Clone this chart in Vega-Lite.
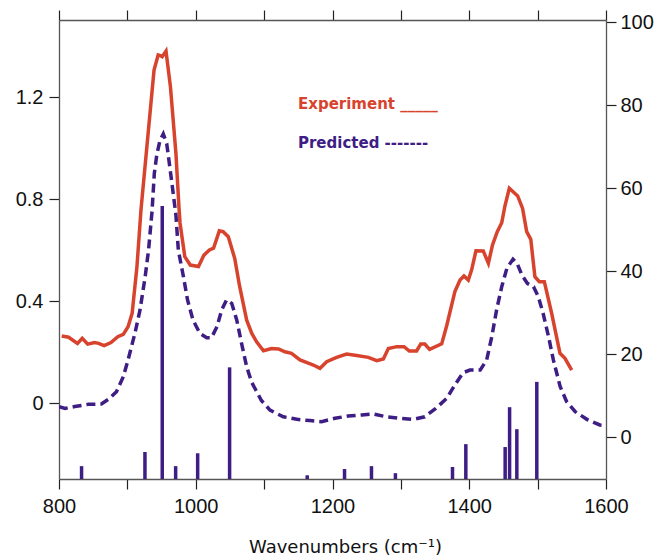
{
  "$schema": "https://vega.github.io/schema/vega-lite/v6.json",
  "width": 547,
  "height": 459,
  "autosize": {"type": "none"},
  "padding": {"left": 59, "top": 20, "right": 51, "bottom": 77},
  "config": {
    "view": {"stroke": null},
    "font": "Liberation Sans",
    "axis": {
      "labelFont": "Liberation Sans",
      "labelFontSize": 20,
      "labelColor": "#111111",
      "labelFlush": false,
      "labelOverlap": false,
      "domainColor": "#555555",
      "domainWidth": 1.3,
      "tickColor": "#222222",
      "tickWidth": 1.2,
      "tickSize": 10,
      "grid": false,
      "labelPadding": 6,
      "titleFont": "DejaVu Sans",
      "titleFontWeight": "normal",
      "titleFontSize": 18,
      "titleColor": "#111111"
    }
  },
  "datasets": {
    "exp": [
      {"wn": 804, "abs": 0.263}, {"wn": 814, "abs": 0.258}, {"wn": 827, "abs": 0.234}, {"wn": 834, "abs": 0.254},
      {"wn": 842, "abs": 0.231}, {"wn": 852, "abs": 0.237}, {"wn": 858, "abs": 0.234}, {"wn": 866, "abs": 0.225},
      {"wn": 876, "abs": 0.237}, {"wn": 886, "abs": 0.26}, {"wn": 894, "abs": 0.269}, {"wn": 901, "abs": 0.299},
      {"wn": 907, "abs": 0.352}, {"wn": 914, "abs": 0.535}, {"wn": 920, "abs": 0.76}, {"wn": 939, "abs": 1.306},
      {"wn": 945, "abs": 1.365}, {"wn": 949, "abs": 1.361}, {"wn": 951, "abs": 1.358}, {"wn": 956.5, "abs": 1.38},
      {"wn": 963, "abs": 1.24}, {"wn": 971, "abs": 0.979}, {"wn": 975.5, "abs": 0.765}, {"wn": 977, "abs": 0.706},
      {"wn": 984, "abs": 0.574}, {"wn": 992, "abs": 0.541}, {"wn": 1004, "abs": 0.535}, {"wn": 1012, "abs": 0.58},
      {"wn": 1020, "abs": 0.6}, {"wn": 1026, "abs": 0.607}, {"wn": 1034.5, "abs": 0.675}, {"wn": 1040, "abs": 0.672},
      {"wn": 1047.6, "abs": 0.652}, {"wn": 1057, "abs": 0.567}, {"wn": 1064, "abs": 0.46}, {"wn": 1074.5, "abs": 0.325},
      {"wn": 1082, "abs": 0.273}, {"wn": 1089, "abs": 0.24}, {"wn": 1099, "abs": 0.205}, {"wn": 1111, "abs": 0.214},
      {"wn": 1121, "abs": 0.212}, {"wn": 1130.5, "abs": 0.201}, {"wn": 1140, "abs": 0.195}, {"wn": 1152.5, "abs": 0.169},
      {"wn": 1164.6, "abs": 0.156}, {"wn": 1172, "abs": 0.149}, {"wn": 1181.7, "abs": 0.136}, {"wn": 1191.5, "abs": 0.162},
      {"wn": 1206, "abs": 0.179}, {"wn": 1220.7, "abs": 0.192}, {"wn": 1235.4, "abs": 0.186}, {"wn": 1252.4, "abs": 0.179},
      {"wn": 1264.6, "abs": 0.166}, {"wn": 1274.4, "abs": 0.173}, {"wn": 1281.7, "abs": 0.214}, {"wn": 1294, "abs": 0.221},
      {"wn": 1304.6, "abs": 0.221}, {"wn": 1312.4, "abs": 0.204}, {"wn": 1323, "abs": 0.204}, {"wn": 1329, "abs": 0.231},
      {"wn": 1335, "abs": 0.231}, {"wn": 1342, "abs": 0.21}, {"wn": 1359.7, "abs": 0.232}, {"wn": 1367, "abs": 0.303},
      {"wn": 1379, "abs": 0.437}, {"wn": 1386.5, "abs": 0.482}, {"wn": 1392.3, "abs": 0.498}, {"wn": 1398.6, "abs": 0.482},
      {"wn": 1403.5, "abs": 0.522}, {"wn": 1409.8, "abs": 0.597}, {"wn": 1420.5, "abs": 0.596}, {"wn": 1428, "abs": 0.548},
      {"wn": 1434, "abs": 0.62}, {"wn": 1441, "abs": 0.672}, {"wn": 1447.5, "abs": 0.707}, {"wn": 1452, "abs": 0.77},
      {"wn": 1458.6, "abs": 0.842}, {"wn": 1470.8, "abs": 0.812}, {"wn": 1478, "abs": 0.763}, {"wn": 1484, "abs": 0.672},
      {"wn": 1490, "abs": 0.642}, {"wn": 1496, "abs": 0.495}, {"wn": 1502.5, "abs": 0.476}, {"wn": 1509.8, "abs": 0.476},
      {"wn": 1520.5, "abs": 0.352}, {"wn": 1532.7, "abs": 0.195}, {"wn": 1540, "abs": 0.175}, {"wn": 1549.8, "abs": 0.129}
    ],
    "pred": [
      {"wn": 800, "abs": -0.014}, {"wn": 809, "abs": -0.021}, {"wn": 823, "abs": -0.014}, {"wn": 843, "abs": -0.005},
      {"wn": 862, "abs": -0.004}, {"wn": 872, "abs": 0.014}, {"wn": 884, "abs": 0.044}, {"wn": 894, "abs": 0.103},
      {"wn": 901, "abs": 0.169}, {"wn": 911, "abs": 0.273}, {"wn": 918.5, "abs": 0.365}, {"wn": 926, "abs": 0.495},
      {"wn": 931, "abs": 0.6}, {"wn": 936, "abs": 0.75}, {"wn": 939.4, "abs": 0.9}, {"wn": 943, "abs": 0.973},
      {"wn": 947.7, "abs": 1.03}, {"wn": 952.5, "abs": 1.055}, {"wn": 957.5, "abs": 1.018}, {"wn": 962, "abs": 0.927},
      {"wn": 967, "abs": 0.822}, {"wn": 971, "abs": 0.737}, {"wn": 974.5, "abs": 0.6}, {"wn": 982, "abs": 0.495},
      {"wn": 988, "abs": 0.404}, {"wn": 996, "abs": 0.325}, {"wn": 1006, "abs": 0.273}, {"wn": 1016, "abs": 0.256},
      {"wn": 1023, "abs": 0.256}, {"wn": 1031, "abs": 0.299}, {"wn": 1038, "abs": 0.365}, {"wn": 1045, "abs": 0.404},
      {"wn": 1052.6, "abs": 0.391}, {"wn": 1060, "abs": 0.325}, {"wn": 1067, "abs": 0.234}, {"wn": 1074.5, "abs": 0.142},
      {"wn": 1082, "abs": 0.08}, {"wn": 1088, "abs": 0.05}, {"wn": 1096, "abs": 0.01}, {"wn": 1108.6, "abs": -0.028},
      {"wn": 1128, "abs": -0.054}, {"wn": 1148, "abs": -0.064}, {"wn": 1167, "abs": -0.069}, {"wn": 1184, "abs": -0.073},
      {"wn": 1203.6, "abs": -0.06}, {"wn": 1223, "abs": -0.051}, {"wn": 1243, "abs": -0.047}, {"wn": 1260, "abs": -0.043},
      {"wn": 1279, "abs": -0.054}, {"wn": 1299, "abs": -0.06}, {"wn": 1318, "abs": -0.064}, {"wn": 1335, "abs": -0.054},
      {"wn": 1351, "abs": -0.021}, {"wn": 1367, "abs": 0.018}, {"wn": 1379, "abs": 0.071}, {"wn": 1391, "abs": 0.119},
      {"wn": 1401, "abs": 0.129}, {"wn": 1416, "abs": 0.129}, {"wn": 1425.5, "abs": 0.169}, {"wn": 1433, "abs": 0.26},
      {"wn": 1440, "abs": 0.365}, {"wn": 1447.5, "abs": 0.456}, {"wn": 1455, "abs": 0.528}, {"wn": 1464, "abs": 0.564},
      {"wn": 1470, "abs": 0.548}, {"wn": 1477, "abs": 0.502}, {"wn": 1485, "abs": 0.469}, {"wn": 1494, "abs": 0.456},
      {"wn": 1501, "abs": 0.417}, {"wn": 1508, "abs": 0.352}, {"wn": 1516, "abs": 0.26}, {"wn": 1523, "abs": 0.169},
      {"wn": 1533, "abs": 0.064}, {"wn": 1542.5, "abs": 0.005}, {"wn": 1555, "abs": -0.034}, {"wn": 1572, "abs": -0.064},
      {"wn": 1591, "abs": -0.086}, {"wn": 1600, "abs": -0.089}
    ],
    "bars": [
      {"wn": 833, "intensity": -7.0}, {"wn": 925.7, "intensity": -3.6}, {"wn": 951, "intensity": 55.7},
      {"wn": 970.6, "intensity": -7.0}, {"wn": 1002.8, "intensity": -3.9}, {"wn": 1049.5, "intensity": 16.8},
      {"wn": 1163, "intensity": -9.2}, {"wn": 1217.6, "intensity": -7.7}, {"wn": 1257, "intensity": -7.0},
      {"wn": 1292, "intensity": -8.7}, {"wn": 1375.5, "intensity": -7.2}, {"wn": 1395, "intensity": -1.7},
      {"wn": 1452.5, "intensity": -2.4}, {"wn": 1459, "intensity": 7.2}, {"wn": 1469.6, "intensity": 1.9},
      {"wn": 1498.8, "intensity": 13.3}
    ],
    "labels": [
      {"wn": 1149.5, "abs": 1.154, "text": "Experiment _____", "series": "exp"},
      {"wn": 1149.5, "abs": 1.0, "text": "Predicted  -------", "series": "pred"}
    ]
  },
  "layer": [
    {
      "layer": [
        {
          "data": {"name": "exp"},
          "mark": {"type": "line", "color": "#d8432e", "strokeWidth": 3.5, "clip": true},
          "encoding": {
            "x": {
              "field": "wn", "type": "quantitative",
              "scale": {"domain": [800, 1600], "nice": false},
              "axis": {
                "orient": "bottom",
                "values": [800, 900, 1000, 1100, 1200, 1300, 1400, 1500, 1600],
                "format": "d",
                "labelPadding": 7,
                "labelExpr": "datum.value % 200 == 0 ? datum.label : ''",
                "title": "Wavenumbers (cm⁻¹)",
                "titleX": 286,
                "titleY": 73,
                "titleAlign": "center",
                "titleBaseline": "alphabetic"
              }
            },
            "y": {
              "field": "abs", "type": "quantitative",
              "scale": {"domain": [-0.298, 1.502], "nice": false, "zero": false},
              "axis": {
                "orient": "left",
                "values": [0, 0.4, 0.8, 1.2],
                "format": ".1~f",
                "title": null
              }
            }
          }
        },
        {
          "data": {"name": "pred"},
          "mark": {"type": "line", "color": "#3e1d84", "strokeWidth": 3.5, "strokeDash": [9, 5], "clip": true},
          "encoding": {
            "x": {"field": "wn", "type": "quantitative"},
            "y": {"field": "abs", "type": "quantitative"}
          }
        },
        {
          "data": {"name": "labels"},
          "mark": {"type": "text", "align": "left", "baseline": "alphabetic", "fontSize": 15, "fontWeight": "bold", "font": "DejaVu Sans"},
          "encoding": {
            "x": {"field": "wn", "type": "quantitative"},
            "y": {"field": "abs", "type": "quantitative"},
            "text": {"field": "text", "type": "nominal"},
            "color": {
              "field": "series", "type": "nominal",
              "scale": {"domain": ["exp", "pred"], "range": ["#d8432e", "#3e1d84"]},
              "legend": null
            }
          }
        }
      ]
    },
    {
      "data": {"name": "bars"},
      "mark": {"type": "rule", "color": "#3e1d84", "strokeWidth": 3.5},
      "encoding": {
        "x": {
          "field": "wn", "type": "quantitative",
          "axis": {
            "orient": "top",
            "values": [800, 900, 1000, 1100, 1200, 1300, 1400, 1500, 1600],
            "labels": false,
            "title": null
          }
        },
        "y": {
          "field": "intensity", "type": "quantitative",
          "scale": {"domain": [-10.1, 100.5], "nice": false, "zero": false},
          "axis": {
            "orient": "right",
            "values": [0, 20, 40, 60, 80, 100],
            "labelPadding": 4,
            "title": null
          }
        },
        "y2": {"datum": -10.1}
      }
    }
  ],
  "resolve": {"scale": {"y": "independent"}, "axis": {"x": "independent"}}
}
